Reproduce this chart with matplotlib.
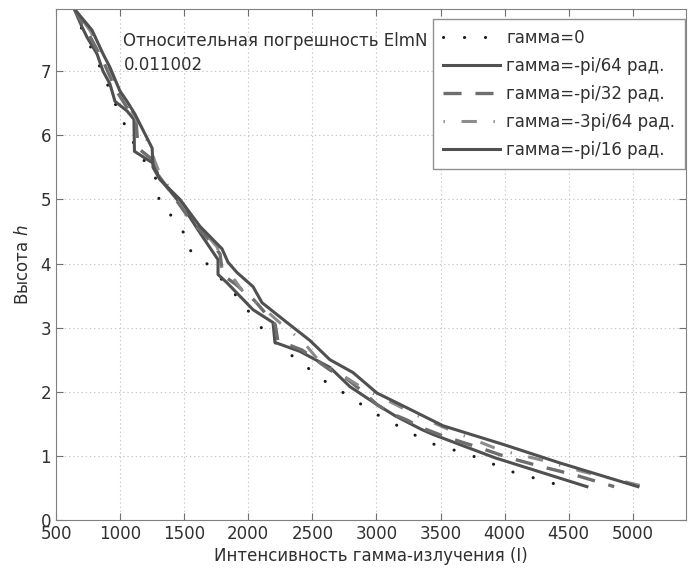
import matplotlib
matplotlib.use('Agg')
import matplotlib.pyplot as plt

plt.rcParams['font.family'] = ['DejaVu Sans']
plt.rcParams['lines.scale_dashes'] = False

# gamma = 0 (dotted)
x_g0 = [640, 703, 790, 880, 960, 1062, 1132, 1296, 1304, 1406, 1507, 1531, 1662, 1873, 2068,
        2161, 2505, 2614, 2746, 3000, 3285, 3417, 3573, 3721, 3870, 4010, 4166, 4314, 4462]
h_g0 = [7.98, 7.65, 7.3, 6.9, 6.5, 6.05, 5.78, 5.27, 4.97, 4.73, 4.45, 4.23, 4.03, 3.58, 3.09,
        2.84, 2.31, 2.14, 1.98, 1.65, 1.34, 1.20, 1.11, 1.02, 0.91, 0.78, 0.69, 0.61, 0.52]

# gamma = -pi/64 (solid)
x_g1 = [640, 703, 742, 820, 867, 921, 960, 1054, 1108, 1112, 1270, 1300, 1444, 1545, 1623, 1764,
        1764, 1834, 2037, 2193, 2208, 2403, 2637, 2793, 3004, 3150, 3354, 3447, 3925, 4642]
h_g1 = [7.98, 7.69, 7.53, 7.27, 7.0, 6.8, 6.53, 6.38, 6.25, 5.75, 5.55, 5.35, 5.0, 4.72, 4.48, 4.06,
        3.83, 3.70, 3.28, 3.08, 2.77, 2.63, 2.38, 2.08, 1.8, 1.62, 1.41, 1.33, 0.97, 0.52]

# gamma = -pi/32 (dashed)
x_g2 = [640, 750, 870, 970, 1080, 1125, 1140, 1265, 1290, 1400, 1540, 1680, 1780, 1800, 1900, 2050,
        2210, 2230, 2420, 2637, 2770, 2895, 3004, 3105, 3238, 3340, 3533, 3800, 4034, 4293, 4552, 4855]
h_g2 = [7.98, 7.6, 7.15, 6.7, 6.35, 6.22, 5.8, 5.6, 5.4, 5.1, 4.7, 4.4, 4.15, 3.82, 3.68, 3.42,
        3.05, 2.8, 2.65, 2.34, 2.2, 2.0, 1.8, 1.67, 1.56, 1.45, 1.30, 1.13, 0.97, 0.83, 0.70, 0.52]

# gamma = -3pi/64 (dash-dot)
x_g3 = [640, 770, 880, 990, 1100, 1230, 1270, 1320, 1460, 1610, 1760, 1790, 1880, 1974, 2120, 2290,
        2420, 2544, 2700, 2900, 3100, 3350, 3600, 3964, 4300, 4600, 5094]
h_g3 = [7.98, 7.62, 7.2, 6.72, 6.35, 5.85, 5.6, 5.35, 5.0, 4.6, 4.25, 3.95, 3.78, 3.52, 3.3, 3.0,
        2.8, 2.5, 2.3, 2.05, 1.85, 1.6, 1.38, 1.09, 0.93, 0.76, 0.52]

# gamma = -pi/16 (solid)
x_g4 = [640, 781, 867, 921, 999, 1054, 1116, 1250, 1257, 1311, 1467, 1623, 1795, 1842, 1912, 2037,
        2107, 2302, 2481, 2637, 2817, 3004, 3238, 3519, 4003, 4431, 5040]
h_g4 = [7.98, 7.64, 7.27, 7.06, 6.69, 6.53, 6.33, 5.8, 5.5, 5.31, 5.0, 4.58, 4.23, 4.02, 3.86, 3.64,
        3.39, 3.08, 2.8, 2.5, 2.3, 1.98, 1.75, 1.47, 1.17, 0.89, 0.52]

labels = ['гамма=0', 'гамма=-pi/64 рад.', 'гамма=-pi/32 рад.',
          'гамма=-3pi/64 рад.', 'гамма=-pi/16 рад.']
xticks = [500, 1000, 1500, 2000, 2500, 3000, 3500, 4000, 4500, 5000]
yticks = [0, 1, 2, 3, 4, 5, 6, 7]

fig = plt.figure(figsize=(6.88, 5.71), dpi=100)
ax = fig.add_axes([56 / 688, 51 / 571, 630 / 688, 511 / 571])

ax.plot(x_g0, h_g0, color='#1a1a1a', lw=2.2, linestyle=(0, (0.1, 15)),
        dash_capstyle='round', label=labels[0])
ax.plot(x_g1, h_g1, color='#505050', lw=2.2, label=labels[1])
ax.plot(x_g2, h_g2, color='#6e6e6e', lw=2.4, linestyle=(0, (13, 10)), label=labels[2])
ax.plot(x_g3, h_g3, color='#8c8c8c', lw=2.2, linestyle=(0, (1, 12, 11, 12)), label=labels[3])
ax.plot(x_g4, h_g4, color='#505050', lw=2.2, label=labels[4])

ax.set_xlim(500, 5415)
ax.set_ylim(0, 7.97)
ax.set_xticks(xticks)
ax.set_yticks(yticks)
ax.grid(True, linestyle=(0, (1, 2)), color='#c8c8c8', lw=0.8)
ax.tick_params(direction='in', length=5, top=True, right=True, labelsize=12,
               color='#707070', labelcolor='#303030')
for s in ax.spines.values():
    s.set_color('#808080')
    s.set_linewidth(0.8)

ax.set_xlabel('Интенсивность гамма-излучения (I)', fontsize=12, color='#303030', labelpad=3)
ax.set_ylabel('Высота $h$', fontsize=12, color='#303030', labelpad=6)

ax.text(0.107, 0.955, 'Относительная погрешность ElmN\n0.011002', transform=ax.transAxes,
        fontsize=12, color='#303030', va='top', ha='left', linespacing=1.4)

leg = ax.legend(loc='upper right', bbox_to_anchor=(0.999, 0.98), fontsize=12,
                fancybox=False, framealpha=1, edgecolor='#909090', handlelength=3.4,
                labelspacing=0.6, borderaxespad=0, handletextpad=0.4, borderpad=0.6)
for t in leg.get_texts():
    t.set_color('#303030')

fig.savefig('out.png', dpi=100)
